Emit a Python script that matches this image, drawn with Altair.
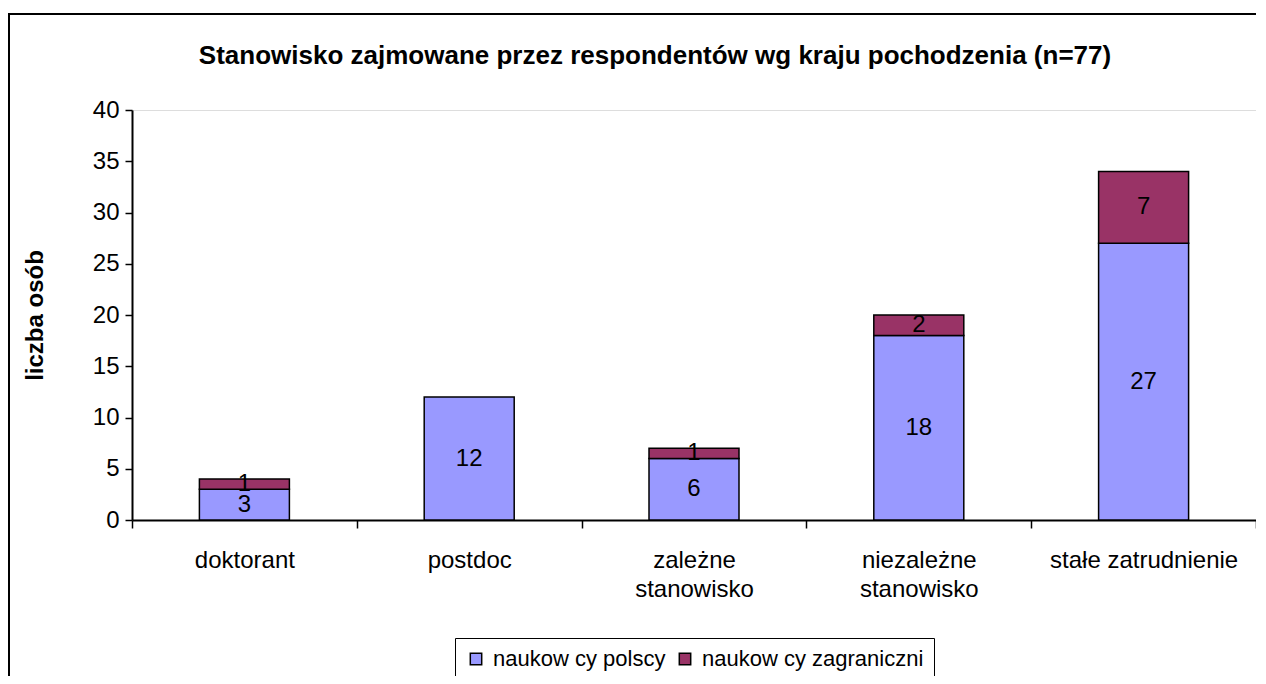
import altair as alt
import pandas as pd

categories = ["doktorant", "postdoc", "zależne stanowisko", "niezależne stanowisko", "stałe zatrudnienie"]
series = ["naukow cy polscy", "naukow cy zagraniczni"]
polscy = [3, 12, 6, 18, 27]
zagraniczni = [1, 0, 1, 2, 7]
colors = ["#9999FF", "#993366"]
title_text = "Stanowisko zajmowane przez respondentów wg kraju pochodzenia (n=77)"
y_ticks = [0, 5, 10, 15, 20, 25, 30, 35, 40]

rows = []
for i, c in enumerate(categories):
    rows.append({"category": c, "series": series[0], "value": polscy[i], "ord": 0})
    rows.append({"category": c, "series": series[1], "value": zagraniczni[i], "ord": 1})
df = pd.DataFrame(rows)

FONT = "Liberation Sans"
FS = 24
W, H = 1124, 410

base = alt.Chart(df).transform_filter("datum.value > 0").transform_stack(
    stack="value", groupby=["category"], as_=["v0", "v1"], sort=[alt.SortField("ord", order="ascending")]
).transform_calculate(mid="(datum.v0 + datum.v1) / 2")

xenc = alt.X(
    "category:N",
    sort=categories,
    title=None,
    scale=alt.Scale(paddingInner=0, paddingOuter=0),
    axis=alt.Axis(
        labelAngle=0,
        tickBand="extent",
        tickSize=8,
        tickColor="black",
        tickWidth=1.5,
        domainColor="black",
        domainWidth=2,
        labelFont=FONT,
        labelFontSize=FS,
        labelColor="black",
        labelPadding=20,
        labelLineHeight=29,
        labelLimit=0,
        labelExpr="indexof(datum.label, 'stanowisko') > 0 ? split(datum.label, ' ') : datum.label",
    ),
)

bars = base.mark_bar(size=90, stroke="black", strokeWidth=1.5).encode(
    x=xenc,
    y=alt.Y(
        "v1:Q",
        scale=alt.Scale(domain=[0, 40], nice=False),
        title="liczba osób",
        axis=alt.Axis(
            values=y_ticks,
            grid=False,
            tickSize=7,
            tickColor="black",
            tickWidth=1.5,
            domainColor="black",
            domainWidth=2,
            labelFont=FONT,
            labelFontSize=FS,
            labelColor="black",
            labelPadding=6,
            titleFont=FONT,
            titleFontSize=24,
            titleFontWeight="bold",
            titleColor="black",
            titleX=-97,
            titleY=205,
            titleBaseline="middle",
            titleAlign="center",
            titleAngle=270,
        ),
    ),
    y2="v0:Q",
    color=alt.Color(
        "series:N",
        scale=alt.Scale(domain=series, range=colors),
        legend=alt.Legend(
            title=None,
            orient="none",
            legendX=323,
            legendY=528,
            direction="horizontal",
            symbolType="square",
            symbolSize=130,
            symbolStrokeColor="black",
            symbolStrokeWidth=1.5,
            labelFont=FONT,
            labelFontSize=22,
            labelColor="black",
            labelLimit=0,
            labelOffset=6,
            columnPadding=8,
            strokeColor="black",
            fillColor="white",
            padding=10,
        ),
    ),
    order=alt.Order("ord:Q"),
)

labels = base.mark_text(font=FONT, fontSize=FS, color="black", baseline="middle").encode(
    x=alt.X("category:N", sort=categories),
    y=alt.Y("mid:Q"),
    text=alt.Text("value:Q"),
)

border = alt.Chart(pd.DataFrame({"b": [0]})).mark_rect(
    filled=False, stroke="black", strokeWidth=2, clip=False
).encode(
    x=alt.value(-123), x2=alt.value(W + 40), y=alt.value(-96), y2=alt.value(H + 300)
)

title = alt.Chart(pd.DataFrame({"t": [title_text]})).mark_text(
    font=FONT, fontSize=26, fontWeight="bold", color="black", baseline="middle", align="center"
).encode(x=alt.value(523), y=alt.value(-54), text="t:N")

chart = alt.layer(border, bars, labels, title).properties(
    width=W,
    height=H,
    autosize=alt.AutoSizeParams(type="none"),
    padding={"left": 124, "top": 102, "right": 0, "bottom": 156},
).configure_view(
    fill="#C0C0C0", stroke="#808080", strokeWidth=2
).configure(background="white")

chart.save("out.html", embed_options={"renderer": "svg", "actions": False})
